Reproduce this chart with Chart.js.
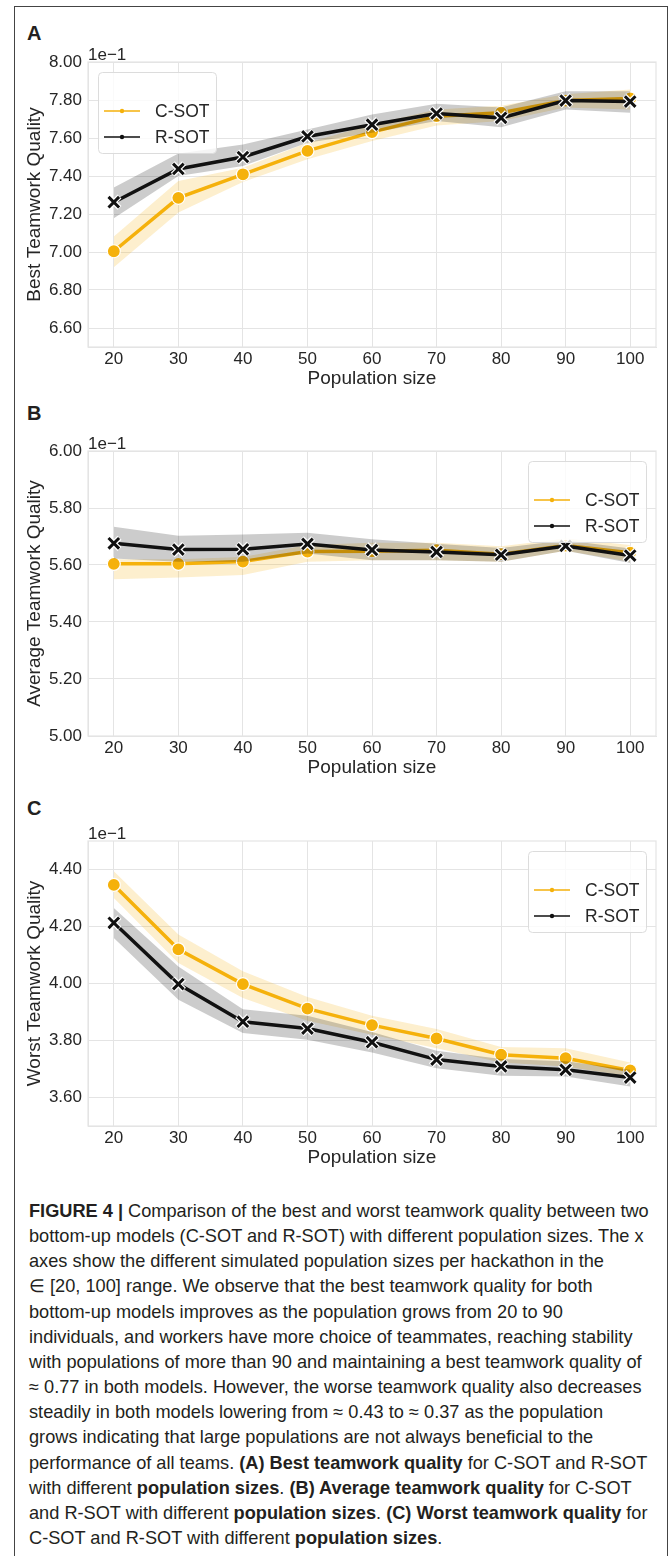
<!DOCTYPE html>
<html>
<head>
<meta charset="utf-8">
<script src="https://cdn.jsdelivr.net/npm/chart.js@4.4.1/dist/chart.umd.min.js"></script>
<style>
  body { margin: 0; background: #fff; }
  #page { position: relative; width: 672px; height: 1556px; overflow: hidden; font-family: "Liberation Sans", Arial, sans-serif; color: #231f20; }
  #frame { position: absolute; left: 14px; top: 6px; width: 652px; height: 1549px; border: 1.5px solid #444; border-bottom: none; }
  .panel-label { position: absolute; left: 27px; font-weight: bold; font-size: 20px; line-height: 20px; }
  canvas { position: absolute; left: 0; }
  #caption { position: absolute; left: 29px; top: 1199px; font-size: 18.2px; line-height: 25.15px; white-space: nowrap; }
</style>
</head>
<body>
<div id="page">
  <div id="frame"></div>
  <div class="panel-label" style="top:23px">A</div>
  <canvas id="js--chart-best" width="672" height="365" style="top:34px"></canvas>
  <div class="panel-label" style="top:403px">B</div>
  <canvas id="js--chart-average" width="672" height="365" style="top:423px"></canvas>
  <div class="panel-label" style="top:798px">C</div>
  <canvas id="js--chart-worst" width="672" height="365" style="top:813px"></canvas>
  <div id="caption">
    <b>FIGURE 4 |</b> Comparison of the best and worst teamwork quality between two<br>
    bottom-up models (C-SOT and R-SOT) with different population sizes. The x<br>
    axes show the different simulated population sizes per hackathon in the<br>
    ∈ [20, 100] range. We observe that the best teamwork quality for both<br>
    bottom-up models improves as the population grows from 20 to 90<br>
    individuals, and workers have more choice of teammates, reaching stability<br>
    with populations of more than 90 and maintaining a best teamwork quality of<br>
    ≈ 0.77 in both models. However, the worse teamwork quality also decreases<br>
    steadily in both models lowering from ≈ 0.43 to ≈ 0.37 as the population<br>
    grows indicating that large populations are not always beneficial to the<br>
    performance of all teams. <b>(A) Best teamwork quality</b> for C-SOT and R-SOT<br>
    with different <b>population sizes</b>. <b>(B) Average teamwork quality</b> for C-SOT<br>
    and R-SOT with different <b>population sizes</b>. <b>(C) Worst teamwork quality</b> for<br>
    C-SOT and R-SOT with different <b>population sizes</b>.
  </div>
</div>
<script>
const populationSizes = [20, 30, 40, 50, 60, 70, 80, 90, 100];

// (A) best teamwork quality
const bestC = [0.7004, 0.7285, 0.7409, 0.7532, 0.7631, 0.7715, 0.7733, 0.7797, 0.7808];
const bestCLow = [0.6920, 0.7208, 0.7369, 0.7488, 0.7584, 0.7666, 0.7690, 0.7760, 0.7750];
const bestCHigh = [0.7081, 0.7374, 0.7444, 0.7575, 0.7671, 0.7750, 0.7770, 0.7830, 0.7855];
const bestR = [0.7262, 0.7437, 0.7500, 0.7608, 0.7670, 0.7729, 0.7706, 0.7797, 0.7792];
const bestRLow = [0.7178, 0.7400, 0.7453, 0.7575, 0.7628, 0.7690, 0.7657, 0.7750, 0.7733];
const bestRHigh = [0.7339, 0.7519, 0.7566, 0.7645, 0.7724, 0.7780, 0.7760, 0.7846, 0.7846];
const bestTicks = [0.66, 0.68, 0.70, 0.72, 0.74, 0.76, 0.78, 0.80];

// (B) average teamwork quality
const avgC = [0.5604, 0.5604, 0.5612, 0.5647, 0.5648, 0.5652, 0.5638, 0.5668, 0.5643];
const avgCLow = [0.5550, 0.5556, 0.5565, 0.5611, 0.5617, 0.5617, 0.5611, 0.5650, 0.5611];
const avgCHigh = [0.5620, 0.5620, 0.5628, 0.5670, 0.5678, 0.5678, 0.5666, 0.5693, 0.5670];
const avgR = [0.5676, 0.5654, 0.5655, 0.5674, 0.5653, 0.5646, 0.5636, 0.5667, 0.5633];
const avgRLow = [0.5623, 0.5611, 0.5611, 0.5640, 0.5617, 0.5617, 0.5611, 0.5650, 0.5607];
const avgRHigh = [0.5734, 0.5703, 0.5707, 0.5713, 0.5690, 0.5675, 0.5660, 0.5687, 0.5658];
const avgTicks = [0.50, 0.52, 0.54, 0.56, 0.58, 0.60];

// (C) worst teamwork quality
const worstC = [0.4346, 0.4120, 0.3998, 0.3912, 0.3854, 0.3807, 0.3750, 0.3738, 0.3695];
const worstCLow = [0.4300, 0.4072, 0.3949, 0.3869, 0.3820, 0.3773, 0.3723, 0.3709, 0.3674];
const worstCHigh = [0.4394, 0.4172, 0.4043, 0.3953, 0.3887, 0.3840, 0.3777, 0.3773, 0.3723];
const worstR = [0.4213, 0.3998, 0.3866, 0.3842, 0.3794, 0.3733, 0.3709, 0.3697, 0.3670];
const worstRLow = [0.4160, 0.3943, 0.3826, 0.3803, 0.3758, 0.3703, 0.3676, 0.3674, 0.3639];
const worstRHigh = [0.4265, 0.4060, 0.3910, 0.3887, 0.3830, 0.3764, 0.3735, 0.3727, 0.3697];
const worstTicks = [0.36, 0.38, 0.40, 0.42, 0.44];

const orange = '#f5b10b';
const orangeBand = 'rgba(245, 177, 11, 0.2)';
const black = '#111111';
const greyBand = 'rgba(0, 0, 0, 0.2)';
const gridColor = '#e4e4e4';
const textColor = '#262626';
const fontFamily = '"Liberation Sans", Arial, sans-serif';

const pts = arr => populationSizes.map((x, i) => ({ x: x, y: arr[i] }));

// light border all round the plot area
const plotFrame = {
    id: 'plotFrame',
    beforeDatasetsDraw(chart) {
        const { ctx, chartArea } = chart;
        ctx.save();
        ctx.strokeStyle = gridColor;
        ctx.lineWidth = 1.2;
        ctx.strokeRect(chartArea.left, chartArea.top, chartArea.right - chartArea.left, chartArea.bottom - chartArea.top);
        ctx.restore();
    }
};

// the "1e-1" offset text above the y axis
const offsetText = {
    id: 'offsetText',
    afterDraw(chart) {
        const { ctx, chartArea } = chart;
        ctx.save();
        ctx.fillStyle = textColor;
        ctx.font = '17px ' + fontFamily;
        ctx.textAlign = 'left';
        ctx.textBaseline = 'middle';
        ctx.fillText('1e\u22121', chartArea.left, chartArea.top - 7);
        ctx.restore();
    }
};

// legend box drawn inside the plot area
const insideLegend = {
    id: 'insideLegend',
    afterDatasetsDraw(chart, args, opts) {
        const { ctx, chartArea } = chart;
        const w = 118, h = 81;
        const x = opts.side === 'left' ? chartArea.left + 10 : chartArea.right - 10 - w;
        const y = chartArea.top + 10;
        ctx.save();
        ctx.fillStyle = 'rgba(255, 255, 255, 0.8)';
        ctx.strokeStyle = '#dcdcdc';
        ctx.lineWidth = 1;
        ctx.beginPath();
        ctx.roundRect(x + 0.5, y + 0.5, w, h, 4);
        ctx.fill();
        ctx.stroke();
        chart.data.datasets.filter(d => d.inLegend).forEach((d, i) => {
            const ly = y + 39 + i * 26;
            ctx.strokeStyle = d.borderColor;
            ctx.lineWidth = 1.5;
            ctx.beginPath();
            ctx.moveTo(x + 6, ly);
            ctx.lineTo(x + 42, ly);
            ctx.stroke();
            ctx.fillStyle = d.borderColor;
            ctx.beginPath();
            ctx.arc(x + 24, ly, 2.2, 0, Math.PI * 2);
            ctx.fill();
            ctx.fillStyle = textColor;
            ctx.font = '17.5px ' + fontFamily;
            ctx.textAlign = 'left';
            ctx.textBaseline = 'middle';
            ctx.fillText(d.label, x + 57, ly + 1);
        });
        ctx.restore();
    }
};

function makePanel(id, yTitle, c, cLow, cHigh, r, rLow, rHigh, yTicks, yMin, yMax, legendSide) {
    const ctx = document.getElementById(id).getContext('2d');
    return new Chart(ctx, {
        type: 'line',
        data: {
            datasets: [
                { data: pts(cHigh), borderWidth: 0, pointRadius: 0, backgroundColor: orangeBand, fill: '+1', order: 9 },
                { data: pts(cLow), borderWidth: 0, pointRadius: 0, fill: false, order: 8 },
                {
                    label: 'C-SOT', inLegend: true, data: pts(c), borderColor: orange, borderWidth: 3.5,
                    pointStyle: 'circle', pointRadius: 6.5, pointBackgroundColor: orange,
                    pointBorderColor: '#ffffff', pointBorderWidth: 1.2, fill: false, order: 7
                },
                { data: pts(rHigh), borderWidth: 0, pointRadius: 0, backgroundColor: greyBand, fill: '+1', order: 6 },
                { data: pts(rLow), borderWidth: 0, pointRadius: 0, fill: false, order: 5 },
                { label: 'R-SOT', inLegend: true, data: pts(r), borderColor: black, borderWidth: 3.5, pointRadius: 0, fill: false, order: 4 },
                {
                    data: pts(r), showLine: false, pointStyle: 'crossRot', pointRadius: 8,
                    pointBorderColor: '#ffffff', pointBorderWidth: 5.5, order: 3
                },
                {
                    data: pts(r), showLine: false, pointStyle: 'crossRot', pointRadius: 7.5,
                    pointBorderColor: black, pointBorderWidth: 3, order: 2
                }
            ]
        },
        options: {
            responsive: false,
            animation: false,
            layout: { padding: { top: 28, right: 16, left: 0, bottom: 0 } },
            elements: { line: { tension: 0 } },
            scales: {
                x: {
                    type: 'linear',
                    min: 16,
                    max: 104,
                    afterFit: scale => { scale.height = 52; },
                    afterBuildTicks: scale => { scale.ticks = populationSizes.map(v => ({ value: v })); },
                    grid: { color: gridColor, drawTicks: false },
                    border: { color: gridColor },
                    ticks: { color: textColor, font: { family: fontFamily, size: 17 }, padding: 2, callback: v => String(v) },
                    title: {
                        display: true, text: 'Population size', color: textColor,
                        font: { family: fontFamily, size: 19, lineHeight: 1.2 }, padding: { top: 0, bottom: 9 }
                    }
                },
                y: {
                    min: yMin,
                    max: yMax,
                    afterFit: scale => { scale.width = 88; },
                    afterBuildTicks: scale => { scale.ticks = yTicks.map(v => ({ value: v })); },
                    grid: { color: gridColor, drawTicks: false },
                    border: { color: gridColor },
                    ticks: { color: textColor, font: { family: fontFamily, size: 17 }, padding: 6, callback: v => (v * 10).toFixed(2) },
                    title: {
                        display: true, text: yTitle, color: textColor,
                        font: { family: fontFamily, size: 19, lineHeight: 1.2 }, padding: { top: 23, bottom: 0 }
                    }
                }
            },
            plugins: {
                legend: { display: false },
                tooltip: { enabled: false },
                filler: { drawTime: 'beforeDatasetDraw' },
                insideLegend: { side: legendSide }
            }
        },
        plugins: [plotFrame, offsetText, insideLegend]
    });
}

makePanel('js--chart-best', 'Best Teamwork Quality', bestC, bestCLow, bestCHigh, bestR, bestRLow, bestRHigh, bestTicks, 0.65, 0.80, 'left');
makePanel('js--chart-average', 'Average Teamwork Quality', avgC, avgCLow, avgCHigh, avgR, avgRLow, avgRHigh, avgTicks, 0.50, 0.60, 'right');
makePanel('js--chart-worst', 'Worst Teamwork Quality', worstC, worstCLow, worstCHigh, worstR, worstRLow, worstRHigh, worstTicks, 0.35, 0.45, 'right');
</script>
</body>
</html>
